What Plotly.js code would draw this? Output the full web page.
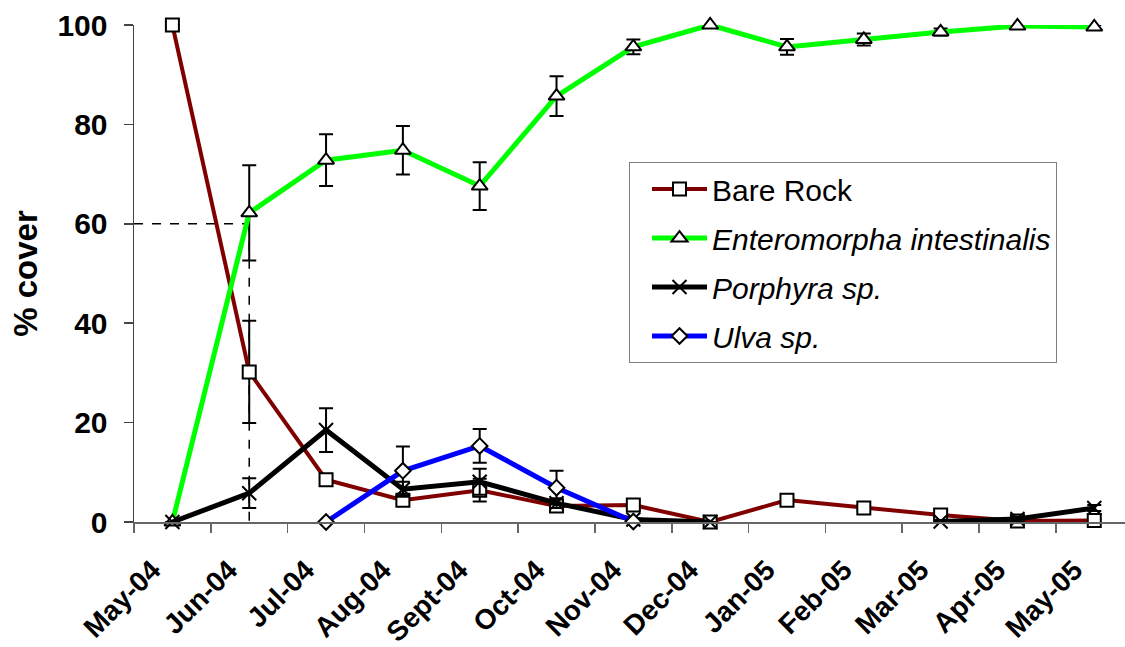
<!DOCTYPE html>
<html><head><meta charset="utf-8">
<script src="https://cdn.plot.ly/plotly-3.0.1.min.js"></script>
<style>html,body{margin:0;padding:0;background:#fff}</style>
</head><body><div id="chart" style="width:1125px;height:647px"></div>
<script>
const months = ['May-04','Jun-04','Jul-04','Aug-04','Sept-04','Oct-04','Nov-04','Dec-04','Jan-05','Feb-05','Mar-05','Apr-05','May-05'];
const bareRock      = [100, 30.2, 8.5, 4.4, 6.4, 3.2, 3.4, 0, 4.4, 2.8, 1.4, 0.2, 0.3];
const bareRockErr   = [0, 10.3, 1.0, 0.8, 2.3, 0.8, 0.8, 0, 1.2, 0.6, 0.5, 0.2, 0.3];
const entero        = [0, 62.2, 72.8, 74.8, 67.6, 85.7, 95.6, 100, 95.6, 97.1, 98.6, 99.8, 99.6];
const enteroErr     = [0, 9.6, 5.2, 4.9, 4.8, 4.0, 1.5, 0, 1.6, 1.2, 0.7, 0.3, 0.4];
const porphyra      = [0, 5.8, 18.5, 6.6, 8.1, 3.8, 0.5, 0, null, null, 0.1, 0.6, 2.8];
const porphyraErr   = [0, 3.0, 4.4, 1.5, 2.6, 1.0, 0.3, 0, null, null, 0.3, 0.5, 0.6];
const ulva          = [null, null, 0, 10.3, 15.3, 6.9, 0.1, null, null, null, null, null, null];
const ulvaErr       = [null, null, 0, 4.9, 3.4, 3.4, 0.3, null, null, null, null, null, null];
const yTicks = [0, 20, 40, 60, 80, 100];
const refMonth = 'Jun-04';
const refValue = 60;

const FONT = 'Liberation Sans, Arial, sans-serif';

function trace(name, y, err, color, lw, symbol, msize, group) {
  return {
    type: 'scatter', mode: 'lines+markers', x: months, y: y, name: name,
    legendgroup: group, connectgaps: false, cliponaxis: false,
    line: {color: color, width: lw},
    marker: {symbol: symbol, size: msize, color: '#fff', line: {color: '#000', width: 2}},
    error_y: {type: 'data', array: err, visible: true, color: '#000', thickness: 2, width: 7}
  };
}

const data = [
  trace('Bare Rock', bareRock, bareRockErr, '#800000', 4, 'square', 13, 'g1'),
  trace('<i>Enteromorpha intestinalis</i>', entero, enteroErr, '#00ff00', 5, 'triangle-up', 14, 'g2'),
  trace('<i>Porphyra sp.</i>', porphyra, porphyraErr, '#000000', 5, 'x-thin', 14, 'g3'),
  trace('<i>Ulva sp.</i>', ulva, ulvaErr, '#0000ff', 5, 'diamond', 12, 'g4')
];

const refIdx = months.indexOf(refMonth);
const layout = {
  width: 1125, height: 647,
  margin: {l: 134, r: 0, t: 25, b: 125},
  paper_bgcolor: '#fff', plot_bgcolor: '#fff',
  font: {family: FONT, color: '#000'},
  showlegend: true,
  xaxis: {
    type: 'category', range: [-0.5, 12.4], tickson: 'boundaries',
    ticks: 'outside', ticklen: 9, tickcolor: '#666', tickwidth: 1.5,
    showline: true, linecolor: '#666', linewidth: 1.5,
    showgrid: false, zeroline: false, tickangle: -45,
    ticklabelstandoff: 19, ticklabelshift: -20,
    tickfont: {family: FONT, size: 28, color: '#000', weight: 'bold'}
  },
  yaxis: {
    range: [0, 100], tickvals: yTicks, ticktext: yTicks.map(String),
    ticks: 'outside', ticklen: 9, tickcolor: '#444', tickwidth: 1.5,
    showline: true, linecolor: '#444', linewidth: 1.5,
    showgrid: false, zeroline: false, ticklabelstandoff: 10,
    tickfont: {family: FONT, size: 30, color: '#000', weight: 'bold'},
    title: {text: '% cover', font: {family: FONT, size: 33, color: '#000', weight: 'bold'}, standoff: 10}
  },
  legend: {
    x: 0.4995, y: 0.7243, xanchor: 'left', yanchor: 'top',
    bgcolor: '#fff', bordercolor: '#808080', borderwidth: 1,
    font: {family: FONT, size: 30, color: '#000'},
    itemwidth: 55, indentation: 17, tracegroupgap: 7, traceorder: 'grouped'
  },
  shapes: [
    {type: 'line', xref: 'x', yref: 'y', x0: -0.5, x1: refIdx, y0: refValue, y1: refValue,
     line: {color: '#000', width: 1.5, dash: 'dash'}, layer: 'below'},
    {type: 'line', xref: 'x', yref: 'y', x0: refIdx, x1: refIdx, y0: refValue, y1: 0,
     line: {color: '#000', width: 1.5, dash: 'dash'}, layer: 'below'}
  ]
};

Plotly.newPlot('chart', data, layout, {displayModeBar: false, staticPlot: true});
</script>
</body></html>
